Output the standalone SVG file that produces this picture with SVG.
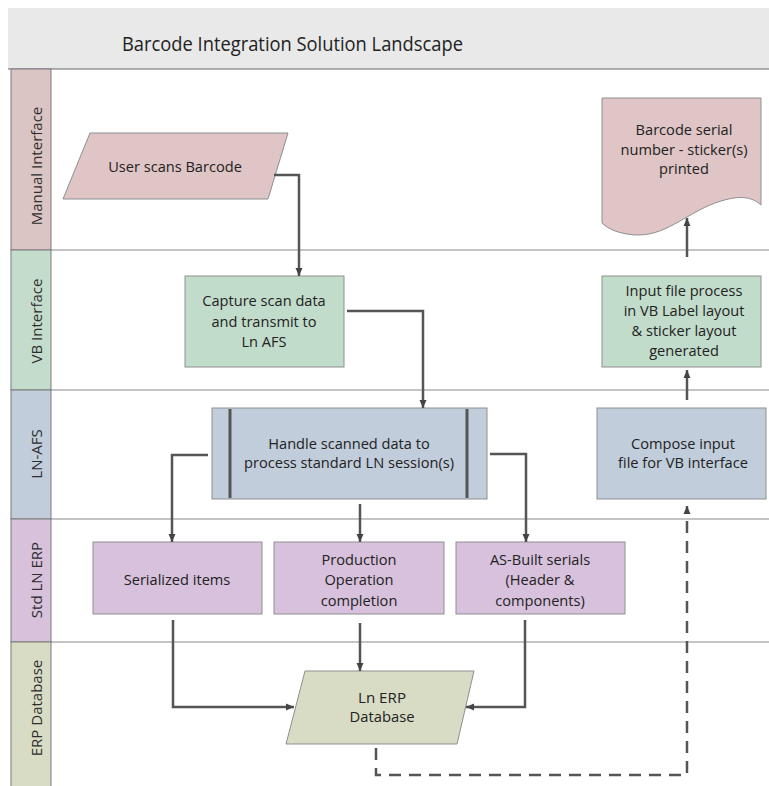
<svg xmlns="http://www.w3.org/2000/svg" width="769" height="786" viewBox="0 0 769 786">
<style>
.lane{stroke:#7a7a7a;stroke-width:1}
.lline{stroke:#8a8a8a;stroke-width:1.2}
.ltxt{font-family:"Open Sans","Liberation Sans",sans-serif;font-size:15px;fill:#2e2e2e;text-anchor:middle}
.node{stroke:#8f8f8f;stroke-width:1}
.t{font-family:"Open Sans","Liberation Sans",sans-serif;font-size:14.6px;fill:#222;text-anchor:middle}
.tc{font-family:"Open Sans","Liberation Sans",sans-serif;font-size:15px;fill:#222;text-anchor:middle}
.c{fill:none;stroke:#555;stroke-width:2.5}
.d{fill:none;stroke:#555;stroke-width:2.5;stroke-dasharray:12 8}
</style>
<defs>
<marker id="ah" viewBox="0 0 8 8" refX="8" refY="4" markerWidth="8" markerHeight="8" orient="auto" markerUnits="userSpaceOnUse"><path d="M0,0.5 L8,4 L0,7.5 Z" fill="#444"/></marker>
</defs>
<rect width="769" height="786" fill="#fff"/>
<g id="header">
<rect x="8" y="8" width="761" height="61" fill="#e9e9e9"/>
<line x1="8" y1="69" x2="769" y2="69" stroke="#666" stroke-width="1.2"/>
<text x="122" y="51" font-family="Open Sans,Liberation Sans,sans-serif" font-size="19.5" fill="#222" textLength="341" lengthAdjust="spacingAndGlyphs">Barcode Integration Solution Landscape</text>
</g>
<g id="lanes">
<line class="lline" x1="51" y1="250" x2="769" y2="250"/>
<line class="lline" x1="51" y1="390" x2="769" y2="390"/>
<line class="lline" x1="51" y1="519" x2="769" y2="519"/>
<line class="lline" x1="51" y1="642" x2="769" y2="642"/>
<g id="lane-manual"><rect class="lane" x="11" y="69" width="40" height="181" fill="#dbc4c4"/><text class="ltxt" transform="translate(42,166) rotate(-90)">Manual Interface</text></g>
<g id="lane-vb"><rect class="lane" x="11" y="250" width="40" height="140" fill="#c4dccc"/><text class="ltxt" transform="translate(42,321) rotate(-90)">VB Interface</text></g>
<g id="lane-lnafs"><rect class="lane" x="11" y="390" width="40" height="129" fill="#c1cddb"/><text class="ltxt" transform="translate(42,454) rotate(-90)">LN-AFS</text></g>
<g id="lane-erp"><rect class="lane" x="11" y="519" width="40" height="123" fill="#d7c1db"/><text class="ltxt" transform="translate(42,580) rotate(-90)">Std LN ERP</text></g>
<g id="lane-db"><rect class="lane" x="11" y="642" width="40" height="150" fill="#d8dcc4"/><text class="ltxt" transform="translate(42,708) rotate(-90)">ERP Database</text></g>
</g>
<g id="n-user">
<path class="node" d="M90,133 H288 L268,199 H63 Z" fill="#dfc5c5"/>
<text class="t" x="175" y="172">User scans Barcode</text>
</g>
<g id="n-printed">
<path class="node" d="M602,98 H761 V205 C750,195 735,195 710,205 C680,218 660,240 627,234 C615,232 607,228 602,223 Z" fill="#dfc5c5"/>
<text class="t" x="684" y="135">Barcode serial</text>
<text class="t" x="684" y="155">number - sticker(s)</text>
<text class="t" x="684" y="174">printed</text>
</g>
<g id="n-capture">
<rect class="node" x="185" y="276" width="159" height="91" fill="#c2dccb"/>
<text class="t" x="264" y="306">Capture scan data</text>
<text class="t" x="264" y="327">and transmit to</text>
<text class="t" x="264" y="347">Ln AFS</text>
</g>
<g id="n-input">
<rect class="node" x="602" y="276" width="159" height="91" fill="#c2dccb"/>
<text class="t" x="684" y="296">Input file process</text>
<text class="t" x="684" y="316">in VB Label layout</text>
<text class="t" x="684" y="336">&amp; sticker layout</text>
<text class="t" x="684" y="356">generated</text>
</g>
<g id="n-handle">
<rect class="node" x="212" y="408" width="275" height="91" fill="#c1cddb"/>
<line x1="230" y1="409" x2="230" y2="498" stroke="#555" stroke-width="3"/>
<line x1="467" y1="409" x2="467" y2="498" stroke="#555" stroke-width="3"/>
<text class="t" x="349" y="449">Handle scanned data to</text>
<text class="t" x="349" y="468">process standard LN session(s)</text>
</g>
<g id="n-compose">
<rect class="node" x="597" y="408" width="169" height="91" fill="#c1cddb"/>
<text class="t" x="683" y="449">Compose input</text>
<text class="t" x="683" y="468">file for VB interface</text>
</g>
<g id="n-serialized">
<rect class="node" x="93" y="542" width="169" height="72" fill="#d8c1dc"/>
<text class="t" x="177" y="585">Serialized items</text>
</g>
<g id="n-production">
<rect class="node" x="274" y="542" width="170" height="72" fill="#d8c1dc"/>
<text class="t" x="359" y="565">Production</text>
<text class="t" x="359" y="585">Operation</text>
<text class="t" x="359" y="606">completion</text>
</g>
<g id="n-asbuilt">
<rect class="node" x="456" y="542" width="169" height="72" fill="#d8c1dc"/>
<text class="t" x="540" y="565">AS-Built serials</text>
<text class="t" x="540" y="585">(Header &amp;</text>
<text class="t" x="540" y="606">components)</text>
</g>
<g id="n-db">
<path class="node" d="M305,671 H474 L457,744 H286 Z" fill="#d8dcc4"/>
<text class="tc" x="382" y="703" textLength="48" lengthAdjust="spacingAndGlyphs">Ln ERP</text>
<text class="tc" x="382" y="722" textLength="65" lengthAdjust="spacingAndGlyphs">Database</text>
</g>
<g id="connectors">
<path class="c" d="M274,175 H299 V276" marker-end="url(#ah)"/>
<path class="c" d="M347,311 H423 V408" marker-end="url(#ah)"/>
<path class="c" d="M208,455 H172 V542" marker-end="url(#ah)"/>
<path class="c" d="M360,504 V542" marker-end="url(#ah)"/>
<path class="c" d="M490,454 H526 V542" marker-end="url(#ah)"/>
<path class="c" d="M173,620 V707 H294" marker-end="url(#ah)"/>
<path class="c" d="M360,623 V671" marker-end="url(#ah)"/>
<path class="c" d="M525,620 V707 H466" marker-end="url(#ah)"/>
<path class="d" d="M376,748 V775 H687 V506" marker-end="url(#ah)"/>
<path class="c" d="M687,400 V370" marker-end="url(#ah)"/>
<path class="c" d="M687,257 V218" marker-end="url(#ah)"/>
</g>
</svg>
